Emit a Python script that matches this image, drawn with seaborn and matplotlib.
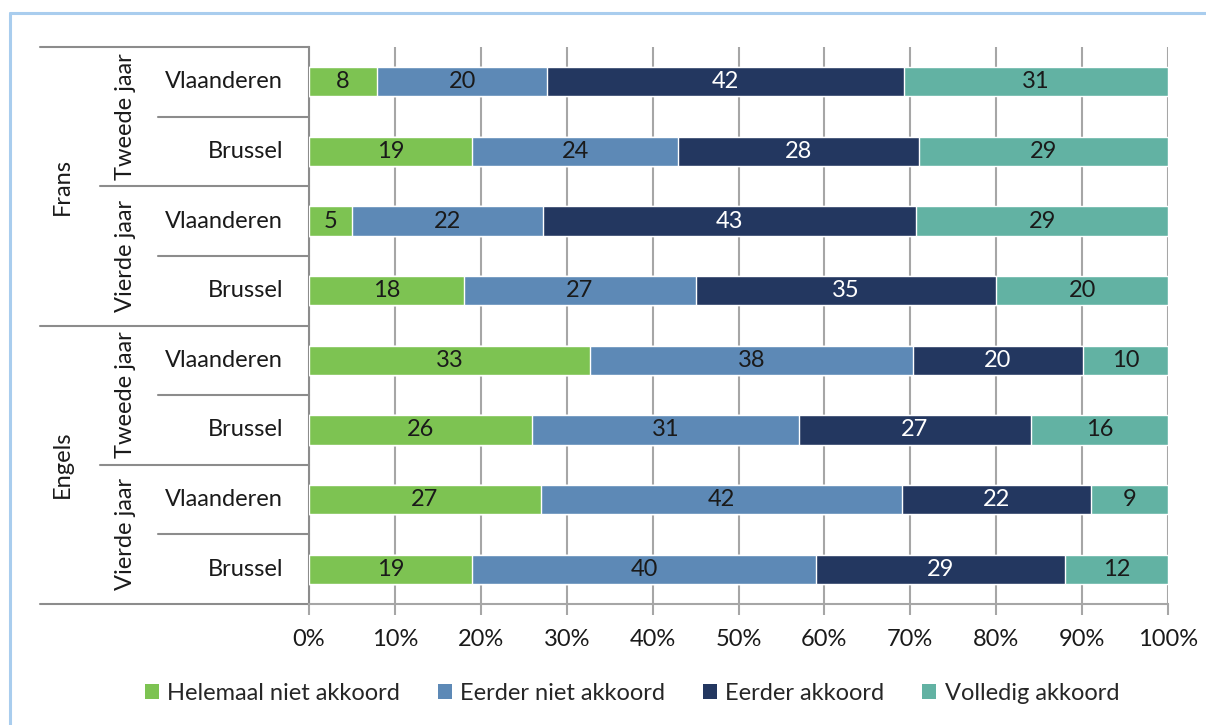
import matplotlib
matplotlib.use("Agg")
import matplotlib.pyplot as plt
from matplotlib.patches import Patch
import matplotlib.transforms as mtransforms
import numpy as np
import pandas as pd
import seaborn as sns

# ---- data ----
languages = ["Frans", "Engels"]
years = ["Tweede jaar", "Vierde jaar"]
regions = ["Vlaanderen", "Brussel"]
categories = ["Helemaal niet akkoord", "Eerder niet akkoord",
              "Eerder akkoord", "Volledig akkoord"]

# one row per (language, year, region), in display order top to bottom
helemaal_niet = [8, 19, 5, 18, 33, 26, 27, 19]
eerder_niet = [20, 24, 22, 27, 38, 31, 42, 40]
eerder_akkoord = [42, 28, 43, 35, 20, 27, 22, 29]
volledig = [31, 29, 29, 20, 10, 16, 9, 12]

tick_labels = ["0%", "10%", "20%", "30%", "40%", "50%",
               "60%", "70%", "80%", "90%", "100%"]

colors = ["#7DC352", "#5D89B6", "#233760", "#62B2A3"]
label_colors = ["#1a1a1a", "#1a1a1a", "white", "#1a1a1a"]
FS = 17

# ---- build frame ----
values = np.array([helemaal_niet, eerder_niet, eerder_akkoord, volledig], dtype=float)
shares = values / values.sum(axis=0) * 100.0          # 100% stacked
cum = np.cumsum(shares, axis=0)
n_rows = values.shape[1]
row_ids = [f"r{i}" for i in range(n_rows)]

df = pd.DataFrame({"row": row_ids})
for k, cat in enumerate(categories):
    df[cat] = values[k]
    df[cat + "_end"] = cum[k]

sns.set_theme(style="white")
plt.rcParams["font.family"] = ["Lato", "DejaVu Sans"]

fig = plt.figure(figsize=(12.06, 7.25), dpi=100)
ax = fig.add_axes([309 / 1206, 1 - 604 / 725, 859 / 1206, 557 / 725])

# draw the stacks from the outermost segment inwards
for k in range(len(categories) - 1, -1, -1):
    sns.barplot(data=df, y="row", x=categories[k] + "_end", order=row_ids,
                color=colors[k], saturation=1, width=0.42, orient="h",
                ax=ax, zorder=3)

# value labels centred on each segment
for k, cat in enumerate(categories):
    starts = cum[k] - shares[k]
    for i in range(n_rows):
        ax.text(starts[i] + shares[k][i] / 2, i, f"{int(values[k][i])}",
                ha="center", va="center", fontsize=FS,
                color=label_colors[k], zorder=5)

ax.set_xlim(0, 100)
ax.set_ylim(n_rows - 0.5, -0.5)
ax.set_xticks(np.arange(0, 101, 10))
ax.set_xticklabels(tick_labels, fontsize=FS, color="#1a1a1a")
ax.set_yticks([])
ax.set_xlabel("")
ax.set_ylabel("")
ax.xaxis.grid(True, color="#a6a6a6", linewidth=1.5, zorder=0)
ax.set_axisbelow(True)
ax.tick_params(axis="x", which="both", bottom=True, length=8, width=1.5,
               color="#a6a6a6", pad=10)
for side in ["top", "right"]:
    ax.spines[side].set_visible(False)
ax.spines["left"].set_color("#8c8c8c")
ax.spines["left"].set_linewidth(1.5)
ax.spines["bottom"].set_color("#a6a6a6")
ax.spines["bottom"].set_linewidth(1.5)

# ---- hierarchical category labels on the left ----
trans = mtransforms.blended_transform_factory(ax.transAxes, ax.transData)
line_kw = dict(color="#8c8c8c", linewidth=1.5, clip_on=False, transform=trans)

x_lang = (40 - 309) / 859
x_year = (100 - 309) / 859
x_reg = (158 - 309) / 859

for i, reg in enumerate(regions * 4):
    ax.text(-0.03, i, reg, transform=trans, ha="right", va="center",
            fontsize=FS, color="#1a1a1a")

# separators between regions
for i in range(1, n_rows, 2):
    ax.plot([x_reg, 0], [i - 0.5, i - 0.5], **line_kw)
# separators between years
for i in [2, 6]:
    ax.plot([x_year, 0], [i - 0.5, i - 0.5], **line_kw)
# separators between languages and outer edges
for i in [0, 4, 8]:
    ax.plot([x_lang, 0], [i - 0.5, i - 0.5], **line_kw)

x_year_lbl = (126 - 309) / 859
for j in range(4):
    ax.text(x_year_lbl, 2 * j + 0.5, years[j % 2], transform=trans,
            ha="center", va="center", rotation=90, fontsize=FS,
            color="#1a1a1a")

x_lang_lbl = (62 - 309) / 859
for j, lang in enumerate(languages):
    ax.text(x_lang_lbl, 4 * j + 1.5, lang, transform=trans,
            ha="center", va="center", rotation=90, fontsize=FS,
            color="#1a1a1a")

# ---- legend ----
handles = [Patch(facecolor=c, edgecolor="none") for c in colors]
fig.legend(handles, categories, loc="center", ncol=4,
           bbox_to_anchor=(0.524, 1 - 693 / 725), frameon=False,
           fontsize=FS, handlelength=0.6, handleheight=0.6,
           handletextpad=0.35, columnspacing=1.6)

# ---- light blue frame around the chart ----
fig.add_artist(plt.Line2D([9.5 / 1206, 9.5 / 1206], [0, 1 - 13 / 725],
                          transform=fig.transFigure, color="#A9CDEE",
                          linewidth=2.2))
fig.add_artist(plt.Line2D([9.5 / 1206, 1], [1 - 13 / 725, 1 - 13 / 725],
                          transform=fig.transFigure, color="#A9CDEE",
                          linewidth=2.2))

fig.savefig("out.png", dpi=100, facecolor="white")
